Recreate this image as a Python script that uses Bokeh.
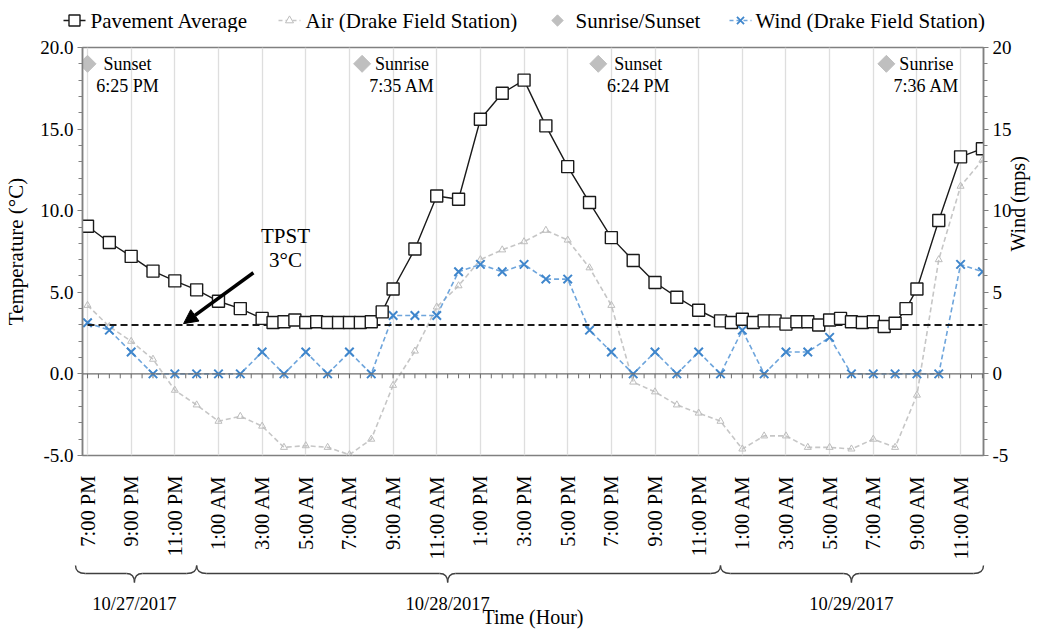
import math
import numpy as np
from bokeh.plotting import figure
from bokeh.models import Range1d, LinearAxis, FixedTicker, Span, Arrow, NormalHead
from bokeh.layouts import column
from bokeh.core.properties import value
from bokeh.embed import file_html
from bokeh.resources import INLINE

# ---------------- data ----------------
# hours after 7:00 PM on 10/27/2017
hours_pave = [0, 1, 2, 3, 4, 5, 6, 7, 8,
              8.5, 9, 9.5, 10, 10.5, 11, 11.5, 12, 12.5, 13, 13.5,
              14, 15, 16, 17, 18, 19, 20, 21, 22, 23, 24, 25, 26, 27, 28, 29,
              29.5, 30, 30.5, 31, 31.5, 32, 32.5, 33, 33.5, 34, 34.5, 35, 35.5, 36, 36.5, 37, 37.5,
              38, 39, 40, 41]
pavement = [9.05, 8.05, 7.2, 6.3, 5.7, 5.15, 4.45, 4.0, 3.4,
            3.15, 3.2, 3.3, 3.15, 3.2, 3.15, 3.15, 3.15, 3.15, 3.2, 3.8,
            5.2, 7.65, 10.9, 10.7, 15.6, 17.2, 18.0, 15.2, 12.7, 10.5, 8.35, 6.95, 5.6, 4.7, 3.9, 3.25,
            3.15, 3.35, 3.15, 3.25, 3.25, 3.05, 3.2, 3.2, 3.0, 3.3, 3.4, 3.2, 3.15, 3.2, 2.9, 3.1, 4.0,
            5.2, 9.4, 13.3, 13.8]

hours = list(range(42))
air = [4.2, 2.9, 2.0, 0.9, -1.0, -1.9, -2.9, -2.6, -3.2, -4.5,
       -4.4, -4.5, -4.95, -4.0, -0.7, 1.4, 4.1, 5.4, 7.0, 7.6,
       8.1, 8.8, 8.2, 6.5, 4.2, -0.5, -1.1, -1.9, -2.4, -2.9,
       -4.6, -3.8, -3.8, -4.5, -4.5, -4.6, -4.0, -4.5, -1.3, 7.0,
       11.5, 13.1]
wind = [3.13, 2.68, 1.34, 0, 0, 0, 0, 0, 1.34, 0,
        1.34, 0, 1.34, 0, 3.58, 3.58, 3.58, 6.26, 6.71, 6.26,
        6.71, 5.81, 5.81, 2.68, 1.34, 0, 1.34, 0, 1.34, 0,
        2.68, 0, 1.34, 1.34, 2.24, 0, 0, 0, 0, 0,
        6.71, 6.26]

sun_hours = [0.0, 12.58, 23.4, 36.6]
sun_level = [19.0, 19.0, 19.0, 19.0]
sun_event = ["Sunset", "Sunrise", "Sunset", "Sunrise"]
sun_time = ["6:25 PM", "7:35 AM", "6:24 PM", "7:36 AM"]

tick_hours = list(range(0, 41, 2))
tick_labels = ["7:00 PM", "9:00 PM", "11:00 PM", "1:00 AM", "3:00 AM", "5:00 AM",
               "7:00 AM", "9:00 AM", "11:00 AM", "1:00 PM", "3:00 PM", "5:00 PM",
               "7:00 PM", "9:00 PM", "11:00 PM", "1:00 AM", "3:00 AM", "5:00 AM",
               "7:00 AM", "9:00 AM", "11:00 AM"]
temp_ticks = [-5, 0, 5, 10, 15, 20]
wind_ticks = [-5, 0, 5, 10, 15, 20]

dates = ["10/27/2017", "10/28/2017", "10/29/2017"]
day_bounds = [-0.55, 5.0, 29.0, 41.05]
brace_tips = [2.15, 16.5, 35.0]
tpst = 3.0

legend_labels = ["Pavement Average", "Air (Drake Field Station)", "Sunrise/Sunset",
                 "Wind (Drake Field Station)"]

# ---------------- layout ----------------
FONT = "Liberation Serif"
X0, X1 = -0.23, 41.05
LB, RB, TB, BB = 82, 67, 15, 98
W = 1050
FW = W - LB - RB
FH = 417
H0 = 32
H1 = TB + FH + BB
H2 = 629 - H0 - H1
PXH = FW / (X1 - X0)

C_PAVE = "#1a1a1a"
C_AIR_L, C_AIR_M = "#c6c6c6", "#bdbdbd"
C_WIND_L, C_WIND_M = "#6ea5dc", "#3f86cc"
C_SUN = "#bfbfbf"


def no_align(fig):
    if "frame_align" in fig.properties():
        fig.frame_align = False


# ---------------- legend strip ----------------
p0 = figure(width=W, height=H0, x_range=Range1d(0, W), y_range=Range1d(0, H0), title=None,
            output_backend="svg", toolbar_location=None, x_axis_type=None, y_axis_type=None,
            min_border_left=0, min_border_right=0, min_border_top=0, min_border_bottom=0)
no_align(p0)
p0.outline_line_color = None
p0.grid.visible = False
lg_glyph_x = [74, 289, 557, 740]
lg_text_x = [90, 305, 575, 755]
ly = 12
half = 11
p0.line([lg_glyph_x[0] - half, lg_glyph_x[0] + half], [ly, ly], line_color=C_PAVE, line_width=1.4)
p0.scatter([lg_glyph_x[0]], [ly], marker="square", size=11, fill_color="white", line_color=C_PAVE, line_width=1.4)
p0.line([lg_glyph_x[1] - half, lg_glyph_x[1] + half], [ly, ly], line_color=C_AIR_L, line_width=1.5, line_dash="4 3")
p0.scatter([lg_glyph_x[1]], [ly], marker="triangle", size=8, fill_color="white", line_color=C_AIR_M, line_width=1)
p0.scatter([lg_glyph_x[2]], [ly], marker="square", angle=math.pi / 4, size=8, fill_color=C_SUN, line_color=C_SUN)
p0.line([lg_glyph_x[3] - half, lg_glyph_x[3] + half], [ly, ly], line_color=C_WIND_L, line_width=1.5, line_dash="4 3")
p0.scatter([lg_glyph_x[3]], [ly], marker="x", size=10, line_color=C_WIND_M, line_width=1.8)
p0.text(lg_text_x, [ly] * 4, text=legend_labels, text_font=value(FONT), text_font_size="21px",
        text_align="left", text_baseline="middle", text_color="black")

# ---------------- main plot ----------------
p = figure(width=W, height=H1, x_range=Range1d(X0, X1), y_range=Range1d(-5, 20), title=None,
           output_backend="svg", toolbar_location=None,
           min_border_left=LB, min_border_right=RB, min_border_top=TB, min_border_bottom=BB)
no_align(p)
p.extra_y_ranges = {"wind": Range1d(-5, 20)}
p.outline_line_color = "#808080"
p.outline_line_width = 1.5

xa = p.xaxis[0]
xa.ticker = FixedTicker(ticks=tick_hours)
xa.major_label_overrides = {h: lab for h, lab in zip(tick_hours, tick_labels)}
xa.major_label_orientation = math.pi / 2
xa.major_label_standoff = 14
xa.major_label_text_font = FONT
xa.major_label_text_font_size = "20.5px"
xa.major_label_text_color = "black"
xa.axis_line_color = None
xa.major_tick_line_color = None
xa.minor_tick_line_color = None

p.xgrid.ticker = FixedTicker(ticks=tick_hours)
p.xgrid.grid_line_color = "#dedede"
p.xgrid.grid_line_width = 1.3
p.ygrid.grid_line_color = None

ya = p.yaxis[0]
ya.ticker = FixedTicker(ticks=temp_ticks, minor_ticks=list(range(-5, 21)))
ya.major_label_overrides = {t: f"{t:.1f}" for t in temp_ticks}
ya.axis_label = "Temperature (°C)"

ra = LinearAxis(y_range_name="wind", ticker=FixedTicker(ticks=wind_ticks, minor_ticks=list(range(-5, 21))),
                axis_label="Wind (mps)")
ra.major_label_overrides = {t: str(t) for t in wind_ticks}
ra.axis_label_orientation = math.pi / 2
p.add_layout(ra, "right")

for ax in [ya, ra]:
    ax.major_label_text_font = FONT
    ax.major_label_text_font_size = "19px"
    ax.major_label_text_color = "black"
    ax.axis_label_text_font = FONT
    ax.axis_label_text_font_size = "20px"
    ax.axis_label_text_font_style = "normal"
    ax.axis_label_text_color = "black"
    ax.axis_label_standoff = 3
    ax.major_label_standoff = 4
    ax.axis_line_color = "#808080"
    ax.axis_line_width = 1.5
    ax.major_tick_line_color = "#808080"
    ax.minor_tick_line_color = "#808080"
    ax.major_tick_in = 0
    ax.major_tick_out = 5
    ax.minor_tick_in = 0
    ax.minor_tick_out = 4
ya.axis_label_text_font_size = "21px"
ya.axis_label_standoff = 9

# zero line with half-hour ticks
p.add_layout(Span(location=0, dimension="width", line_color="#6d6d6d", line_width=1.4))
tx = np.arange(0, X1 + 0.01, 0.5)
p.segment(x0=tx, y0=np.zeros_like(tx), x1=tx, y1=np.full_like(tx, -0.27),
          line_color="#6d6d6d", line_width=1)

# air temperature
p.line(hours, air, line_color=C_AIR_L, line_width=1.6, line_dash="5 3")
p.scatter(hours, air, marker="triangle", size=7, fill_color=None, line_color=C_AIR_M, line_width=1)

# wind
p.line(hours, wind, y_range_name="wind", line_color=C_WIND_L, line_width=1.6, line_dash="5 3")
p.scatter(hours, wind, y_range_name="wind", marker="x", size=12, line_color=C_WIND_M, line_width=2)

# TPST threshold
p.line([hours[0], hours[-1]], [tpst, tpst], line_color=C_PAVE, line_width=2, line_dash="7 4")

# pavement
p.line(hours_pave, pavement, line_color=C_PAVE, line_width=1.4)
p.scatter(hours_pave, pavement, marker="square", size=12, fill_color="white", line_color=C_PAVE, line_width=1.4)

# sunrise / sunset
p.scatter(sun_hours, sun_level, marker="square", angle=math.pi / 4, size=12,
          fill_color=C_SUN, line_color=C_SUN)
p.text(sun_hours, sun_level, text=sun_event, x_offset=40, y_offset=0,
       text_font=value(FONT), text_font_size="18px", text_align="center",
       text_baseline="middle", text_color="black")
p.text(sun_hours, sun_level, text=sun_time, x_offset=40, y_offset=22,
       text_font=value(FONT), text_font_size="18px", text_align="center",
       text_baseline="middle", text_color="black")

# TPST annotation
p.text([9.07], [8.45], text=["TPST"], text_font=value(FONT), text_font_size="21px",
       text_align="center", text_baseline="middle", text_color="black")
p.text([9.07], [7.0], text=["3°C"], text_font=value(FONT), text_font_size="21px",
       text_align="center", text_baseline="middle", text_color="black")
p.add_layout(Arrow(end=NormalHead(size=14, fill_color="black", line_color="black"),
                   x_start=7.6, y_start=6.2, x_end=4.4, y_end=3.08,
                   line_color="black", line_width=3.5))

# ---------------- bottom strip: braces + dates ----------------
bx0 = X0 - LB / PXH
bx1 = X1 + RB / PXH
p2 = figure(width=W, height=H2, x_range=Range1d(bx0, bx1), y_range=Range1d(0, H2), title=None,
            output_backend="svg", toolbar_location=None, x_axis_type=None, y_axis_type=None,
            min_border_left=0, min_border_right=0, min_border_top=0, min_border_bottom=0)
no_align(p2)
p2.outline_line_color = None
p2.grid.visible = False

y_top, y_bar, y_tip = 64, 56, 47
r_end = 10 / PXH
r_tip = 8 / PXH
qx0, qy0, qx1, qy1, qcx, qcy = [], [], [], [], [], []
sx0, sy0, sx1, sy1 = [], [], [], []
for a, b, m in zip(day_bounds[:-1], day_bounds[1:], brace_tips):
    for (x0_, y0_, x1_, y1_, cx_, cy_) in [
        (a, y_top, a + r_end, y_bar, a, y_bar),
        (m - r_tip, y_bar, m, y_tip, m, y_bar),
        (m, y_tip, m + r_tip, y_bar, m, y_bar),
        (b - r_end, y_bar, b, y_top, b, y_bar),
    ]:
        qx0.append(x0_); qy0.append(y0_); qx1.append(x1_); qy1.append(y1_); qcx.append(cx_); qcy.append(cy_)
    sx0 += [a + r_end, m + r_tip]
    sx1 += [m - r_tip, b - r_end]
    sy0 += [y_bar, y_bar]
    sy1 += [y_bar, y_bar]
p2.quadratic(x0=qx0, y0=qy0, x1=qx1, y1=qy1, cx=qcx, cy=qcy, line_color="#404040", line_width=1.4)
p2.segment(x0=sx0, y0=sy0, x1=sx1, y1=sy1, line_color="#404040", line_width=1.4)
p2.text(brace_tips, [26] * len(dates), text=dates, text_font=value(FONT), text_font_size="18.5px",
        text_align="center", text_baseline="middle", text_color="black")
p2.text([(X0 + X1) / 2], [13], text=["Time (Hour)"], text_font=value(FONT), text_font_size="20px",
        text_align="center", text_baseline="middle", text_color="black")

layout = column(p0, p, p2, spacing=0)
open("out.html", "w").write(file_html(layout, INLINE))
